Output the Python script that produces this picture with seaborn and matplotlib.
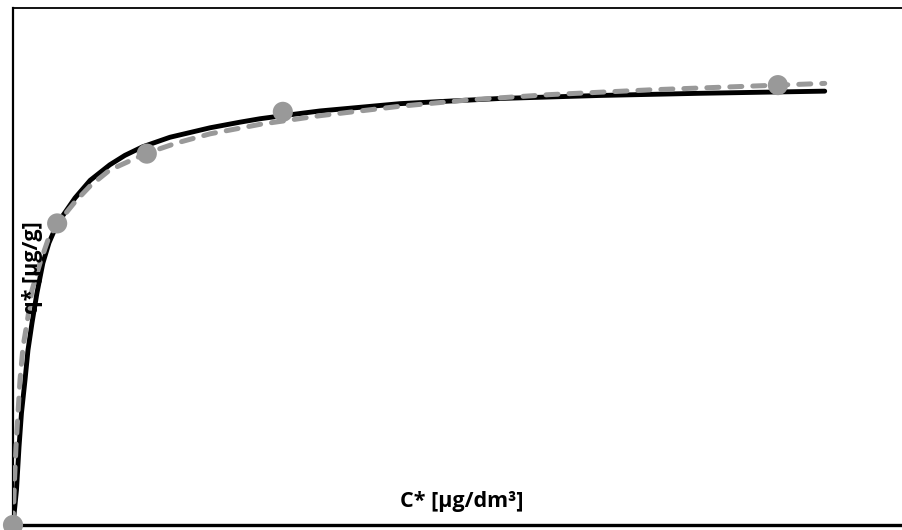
import matplotlib
matplotlib.use("Agg")
import matplotlib.pyplot as plt
import seaborn as sns
import pandas as pd

# Experimental points (C*, q*)
C_exp = [0.0, 0.99, 3.0, 6.05, 17.15]
q_exp = [0.0, 7.0, 8.62, 9.59, 10.21]

# Solid black fitted curve
C_fit1 = [0.0, 0.078, 0.135, 0.19, 0.27, 0.336, 0.426, 0.538, 0.67, 0.807, 0.99,
          1.39, 1.73, 2.17, 2.51, 2.91, 3.52, 4.42, 5.09, 5.54, 6.05, 6.88, 8.68,
          10.92, 13.16, 15.40, 18.2]
q_fit1 = [0.0, 0.81, 1.81, 2.60, 3.37, 4.06, 4.69, 5.39, 6.08, 6.55, 6.99,
          7.59, 8.0, 8.36, 8.58, 8.78, 9.0, 9.22, 9.35, 9.43, 9.50, 9.61, 9.78,
          9.90, 9.97, 10.02, 10.07]

# Dashed grey fitted curve
C_fit2 = [0.0, 0.034, 0.067, 0.112, 0.157, 0.224, 0.314, 0.426, 0.605, 0.785, 0.99,
          1.39, 1.73, 2.17, 3.0, 3.68, 4.42, 5.54, 6.88, 8.68, 10.25, 12.04,
          14.28, 17.15, 18.2]
q_fit2 = [0.0, 1.04, 1.81, 2.60, 3.37, 4.13, 4.69, 5.45, 6.08, 6.62, 6.99,
          7.50, 7.87, 8.24, 8.63, 8.87, 9.08, 9.30, 9.50, 9.72, 9.87, 9.99,
          10.10, 10.21, 10.25]

x_label = "C* [µg/dm³]"
y_label = "q* [µg/g]"

sns.set_style("white")
plt.rcParams['font.family'] = ['Open Sans', 'DejaVu Sans']

fig = plt.figure(figsize=(9.03, 5.30), dpi=100)
ax = fig.add_axes([13/903, 5/530, 892/903, 517/530])

df1 = pd.DataFrame({"C": C_fit1, "q": q_fit1})
df2 = pd.DataFrame({"C": C_fit2, "q": q_fit2})
dfp = pd.DataFrame({"C": C_exp, "q": q_exp})

sns.lineplot(data=df1, x="C", y="q", ax=ax, color="black", linewidth=3.5,
             sort=False, estimator=None, solid_capstyle="round",
             solid_joinstyle="round", zorder=2)
sns.lineplot(data=df2, x="C", y="q", ax=ax, color="#999999", linewidth=3.6,
             sort=False, estimator=None, zorder=3)
ax.lines[-1].set_dashes([2.4, 2.2])
ax.lines[-1].set_dash_capstyle("round")
ax.lines[-1].set_dash_joinstyle("round")
sns.scatterplot(data=dfp, x="C", y="q", ax=ax, color="#999999", s=210,
                edgecolor="none", zorder=4, clip_on=False)

ax.set_xlim(0, 20)
ax.set_ylim(0, 12)
ax.set_xticks([])
ax.set_yticks([])
ax.set_xlabel("")
ax.set_ylabel("")

for side, lw in [("left", 1.6), ("top", 1.3), ("bottom", 2.4), ("right", 1.3)]:
    ax.spines[side].set_visible(True)
    ax.spines[side].set_color("black")
    ax.spines[side].set_linewidth(lw)

ax.text(0.503, 0.035, x_label, transform=ax.transAxes, ha="center", va="baseline",
        fontsize=15.5, fontweight="bold", color="black")
ax.text(0.0215, 0.497, y_label, transform=ax.transAxes, ha="center", va="center",
        rotation=90, fontsize=15.5, fontweight="bold", color="black")

fig.savefig("out.png", dpi=100)
